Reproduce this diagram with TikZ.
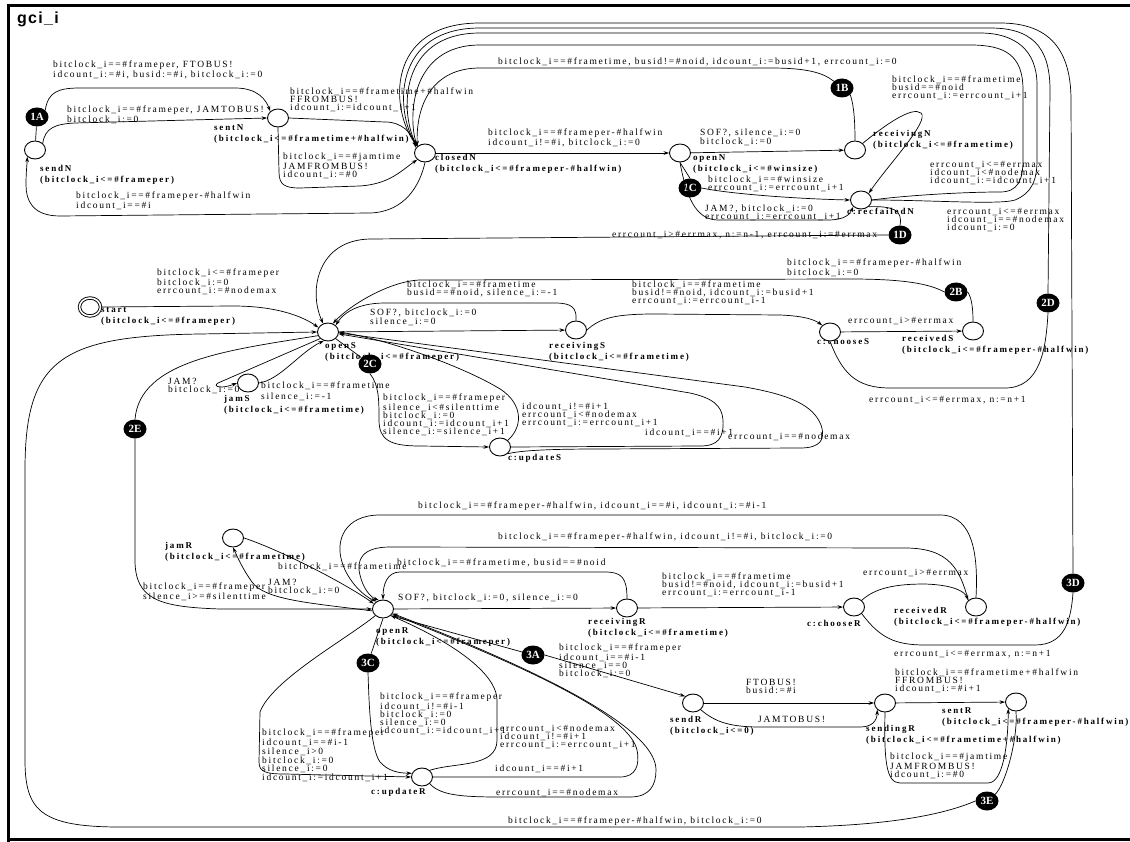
\documentclass[tikz,border=0pt]{standalone}
\usepackage{fontspec}
\setmainfont{Liberation Serif}
\newfontfamily\lbfont{Liberation Serif}[LetterSpace=18]
\newfontfamily\nmfont{Liberation Serif Bold}[LetterSpace=20]
\newfontfamily\mkfont{Liberation Serif Bold}
\newfontfamily\ttlfont{Liberation Sans Bold}[LetterSpace=8]
\usetikzlibrary{shapes.geometric,arrows.meta}
\newcommand\lf{\lbfont\fontsize{9.5}{8}\selectfont}
\newcommand\nf{\nmfont\fontsize{9}{11}\selectfont}
\begin{document}
\begin{tikzpicture}[x=1pt,y=-1pt,
  >={Stealth[length=5.5pt,width=3.6pt]},
  loc/.style={draw, ellipse, minimum width=21pt, minimum height=18pt, inner sep=0pt, line width=0.9pt, fill=white},
  mk/.style={ellipse, fill=black, minimum width=23pt, minimum height=19pt, inner sep=0pt, text=white, font=\mkfont\fontsize{11}{11}\selectfont},
  lb/.style={anchor=north west, inner sep=0pt, align=left, font=\lf},
  nm/.style={anchor=north west, inner sep=0pt, align=left, font=\nf},
  edg/.style={line width=0.7pt},
  arr/.style={edg,->}]
\useasboundingbox (0,0) rectangle (1130,842);
% frame and title
\draw[line width=3pt] (8,842) -- (8,5.5) -- (1131,5.5);
\draw[line width=3pt] (8,839.5) -- (1131,839.5);
\node[anchor=base west, font=\ttlfont\fontsize{16}{16}\selectfont, inner sep=0pt] (title) at (17,24) {gci\_i};

% ---------------- location names
\node[nm] (n1) at (40,165) {sendN\\(bitclock\_i<=\#frameper)};
\node[nm] (n2) at (214,124) {sentN\\(bitclock\_i<=\#frametime+\#halfwin)};
\node[nm] (n3) at (435,154) {closedN\\(bitclock\_i<=\#frameper-\#halfwin)};
\node[nm] (n4) at (693,154) {openN\\(bitclock\_i<=\#winsize)};
\node[nm] (n5) at (873,130) {receivingN\\(bitclock\_i<=\#frametime)};
\node[nm] (n6) at (847,208) {c:recfailedN};
\node[nm] (n7) at (101,307) {start\\(bitclock\_i<=\#frameper)};
\node[nm] (n8) at (325,342) {openS\\(bitclock\_i<=\#frameper)};
\node[nm] (n9) at (549,342) {receivingS\\(bitclock\_i<=\#frametime)};
\node[nm] (n10) at (817,338) {c:chooseS};
\node[nm] (n11) at (902,335) {receivedS\\(bitclock\_i<=\#frameper-\#halfwin)};
\node[nm] (n12) at (224,395) {jamS\\(bitclock\_i<=\#frametime)};
\node[nm] (n13) at (508,454) {c:updateS};
\node[nm] (n14) at (165,542) {jamR\\(bitclock\_i<=\#frametime)};
\node[nm] (n15) at (376,627) {openR\\(bitclock\_i<=\#frameper)};
\node[nm] (n16) at (588,618) {receivingR\\(bitclock\_i<=\#frametime)};
\node[nm] (n17) at (807,620) {c:chooseR};
\node[nm] (n18) at (894,607) {receivedR\\(bitclock\_i<=\#frameper-\#halfwin)};
\node[nm] (n19) at (670,716) {sendR\\(bitclock\_i<=0)};
\node[nm] (n20) at (866,725) {sendingR\\(bitclock\_i<=\#frametime+\#halfwin)};
\node[nm] (n21) at (942,707) {sentR\\(bitclock\_i<=\#frameper-\#halfwin)};
\node[nm] (n22) at (371,788) {c:updateR};

% ---------------- edge labels
\node[lb] (t1) at (53,61) {bitclock\_i==\#frameper, FTOBUS!\\idcount\_i:=\#i, busid:=\#i, bitclock\_i:=0};
\node[lb] (t2) at (67,106) {bitclock\_i==\#frameper, JAMTOBUS!\\bitclock\_i:=0};
\node[lb] (t3) at (290,88) {bitclock\_i==\#frametime+\#halfwin\\FFROMBUS!\\idcount\_i:=idcount\_i+1};
\node[lb] (t4) at (283,153) {bitclock\_i==\#jamtime\\JAMFROMBUS!\\idcount\_i:=\#0};
\node[lb] (t5) at (76,192) {bitclock\_i==\#frameper-\#halfwin\\idcount\_i==\#i};
\node[lb] (t6) at (488,129) {bitclock\_i==\#frameper-\#halfwin\\idcount\_i!=\#i, bitclock\_i:=0};
\node[lb] (t7) at (700,129) {SOF?, silence\_i:=0\\bitclock\_i:=0};
\node[lb] (t8) at (498,58) {bitclock\_i==\#frametime, busid!=\#noid, idcount\_i:=busid+1, errcount\_i:=0};
\node[lb] (t9) at (892,76) {bitclock\_i==\#frametime\\busid==\#noid\\errcount\_i:=errcount\_i+1};
\node[lb] (t10) at (708,176) {bitclock\_i==\#winsize\\errcount\_i:=errcount\_i+1};
\node[lb] (t11) at (705,205) {JAM?, bitclock\_i:=0\\errcount\_i:=errcount\_i+1};
\node[lb] (t12) at (930,161) {errcount\_i<=\#errmax\\idcount\_i<\#nodemax\\idcount\_i:=idcount\_i+1};
\node[lb] (t13) at (947,208) {errcount\_i<=\#errmax\\idcount\_i==\#nodemax\\idcount\_i:=0};
\node[lb] (t14) at (612,231) {errcount\_i>\#errmax, n:=n-1, errcount\_i:=\#errmax};
\node[lb] (t15) at (157,269) {bitclock\_i<=\#frameper\\bitclock\_i:=0\\errcount\_i:=\#nodemax};
\node[lb] (t16) at (370,309) {SOF?, bitclock\_i:=0\\silence\_i:=0};
\node[lb] (t17) at (407,281) {bitclock\_i==\#frametime\\busid==\#noid, silence\_i:=-1};
\node[lb] (t18) at (787,259) {bitclock\_i==\#frameper-\#halfwin\\bitclock\_i:=0};
\node[lb] (t19) at (632,281) {bitclock\_i==\#frametime\\busid!=\#noid, idcount\_i:=busid+1\\errcount\_i:=errcount\_i-1};
\node[lb] (t20) at (848,317) {errcount\_i>\#errmax};
\node[lb] (t21) at (869,396) {errcount\_i<=\#errmax, n:=n+1};
\node[lb] (t22) at (168,378) {JAM?\\bitclock\_i:=0};
\node[lb, font=\lbfont\fontsize{9.5}{11}\selectfont] (t23) at (261,382) {bitclock\_i==\#frametime\\silence\_i:=-1};
\node[lb] (t24) at (383,394) {bitclock\_i==\#frameper\\silence\_i<\#silenttime\\bitclock\_i:=0\\idcount\_i:=idcount\_i+1\\silence\_i:=silence\_i+1};
\node[lb] (t25) at (522,403) {idcount\_i!=\#i+1\\errcount\_i<\#nodemax\\errcount\_i:=errcount\_i+1};
\node[lb] (t26) at (645,429) {idcount\_i==\#i+1};
\node[lb] (t27) at (728,433) {errcount\_i==\#nodemax};
\node[lb] (t28) at (143,583) {bitclock\_i==\#frameper\\silence\_i>=\#silenttime};
\node[lb] (t29) at (268,579) {JAM?\\bitclock\_i:=0};
\node[lb] (t30) at (278,563) {bitclock\_i==\#frametime};
\node[lb] (t31) at (418,502) {bitclock\_i==\#frameper-\#halfwin, idcount\_i==\#i, idcount\_i:=\#i-1};
\node[lb] (t32) at (498,533) {bitclock\_i==\#frameper-\#halfwin, idcount\_i!=\#i, bitclock\_i:=0};
\node[lb] (t33) at (397,559) {bitclock\_i==\#frametime, busid==\#noid};
\node[lb] (t34) at (398,594) {SOF?, bitclock\_i:=0, silence\_i:=0};
\node[lb] (t35) at (662,573) {bitclock\_i==\#frametime\\busid!=\#noid, idcount\_i:=busid+1\\errcount\_i:=errcount\_i-1};
\node[lb] (t36) at (863,569) {errcount\_i>\#errmax};
\node[lb] (t37) at (894,650) {errcount\_i<=\#errmax, n:=n+1};
\node[lb] (t38) at (559,644) {bitclock\_i==\#frameper\\idcount\_i==\#i-1\\silence\_i==0\\bitclock\_i:=0};
\node[lb] (t39) at (380,693) {bitclock\_i==\#frameper\\idcount\_i!=\#i-1\\bitclock\_i:=0\\silence\_i:=0\\idcount\_i:=idcount\_i+1};
\node[lb, font=\lbfont\fontsize{9.5}{7.3}\selectfont] (t40) at (262,729) {bitclock\_i==\#frameper\\idcount\_i==\#i-1\\silence\_i>0\\bitclock\_i:=0\\silence\_i:=0\\idcount\_i:=idcount\_i+1};
\node[lb] (t41) at (500,725) {errcount\_i<\#nodemax\\idcount\_i!=\#i+1\\errcount\_i:=errcount\_i+1};
\node[lb] (t42) at (495,765) {idcount\_i==\#i+1};
\node[lb] (t43) at (496,789) {errcount\_i==\#nodemax};
\node[lb] (t44) at (746,679) {FTOBUS!\\busid:=\#i};
\node[lb] (t45) at (758,716) {JAMTOBUS!};
\node[lb] (t46) at (895,669) {bitclock\_i==\#frametime+\#halfwin\\FFROMBUS!\\idcount\_i:=\#i+1};
\node[lb] (t47) at (890,753) {bitclock\_i==\#jamtime\\JAMFROMBUS!\\idcount\_i:=\#0};
\node[lb] (t48) at (508,817) {bitclock\_i==\#frameper-\#halfwin, bitclock\_i:=0};

% ---------------- locations
\node[loc] (sendN) at (35,150) {};
\node[loc] (sentN) at (278,118) {};
\node[loc] (closedN) at (425,153) {};
\node[loc] (openN) at (680,153) {};
\node[loc] (receivingN) at (855,150) {};
\node[loc] (recfailedN) at (861,200) {};
\node[mk] (m1A) at (37,117) {1A};
\node[mk] (m1B) at (842,88) {1B};
\node[mk] (m1C) at (690,188) {1C};
\node[mk] (m1D) at (900,235) {1D};

\node[loc, double, double distance=1.6pt] (start) at (90,307) {};
\node[loc] (openS) at (328,332) {};
\node[loc] (receivingS) at (576,330) {};
\node[loc] (chooseS) at (830,332) {};
\node[loc] (receivedS) at (973,331) {};
\node[loc] (jamS) at (248,383) {};
\node[loc] (updateS) at (500,447) {};
\node[mk] (m2B) at (956,292) {2B};
\node[mk] (m2C) at (370,364) {2C};
\node[mk] (m2D) at (1048,303) {2D};
\node[mk] (m2E) at (135,429) {2E};

\node[loc] (jamR) at (233,538) {};
\node[loc] (openR) at (383,609) {};
\node[loc] (receivingR) at (627,608) {};
\node[loc] (chooseR) at (854,607) {};
\node[loc] (receivedR) at (976,607) {};
\node[loc] (sendR) at (693,703) {};
\node[loc] (sendingR) at (885,703) {};
\node[loc] (sentR) at (1016,702) {};
\node[loc] (updateR) at (422,777) {};
\node[mk] (m3A) at (533,655) {3A};
\node[mk] (m3C) at (368,663) {3C};
\node[mk] (m3D) at (1073,583) {3D};
\node[mk] (m3E) at (987,801) {3E};

% ---------------- edges N
\draw[edg] (sendN) -- (m1A);
\draw[arr] (m1A.north east) .. controls (48,92) and (58,88) .. (80,88) -- (235,88) .. controls (258,88) and (266,100) .. (sentN.north west);
\draw[arr] (sendN.north east) .. controls (45,128) and (55,124) .. (75,123) -- (sentN.west);
\draw[arr] (sentN.east) -- (385,122) .. controls (402,122) and (412,133) .. (closedN.150);
\draw[arr] (sentN.south) -- (279,172) .. controls (279,185) and (285,188) .. (300,188) -- (360,186) .. controls (390,184) and (402,170) .. (closedN.south west);
\draw[arr] (closedN.south) .. controls (420,185) and (405,212) .. (370,213) -- (60,216) .. controls (32,216) and (26,200) .. (26,185) .. controls (26,172) and (27,165) .. (sendN.south west);
\draw[arr] (closedN) -- (openN);
\draw[arr] (openN) -- (receivingN);
\draw[edg] (receivingN.north) .. controls (855,110) and (852,100) .. (m1B.south east);
\draw[arr] (m1B.north west) .. controls (822,72) and (805,68) .. (770,68) -- (480,68) .. controls (432,68) and (416,105) .. (closedN.north west);
\draw[arr] (receivingN.north east) .. controls (885,125) and (912,106) .. (921,113) .. controls (930,121) and (888,165) .. (recfailedN.north east);
\draw[edg] (openN.south) -- (m1C.north);
\draw[arr] (m1C.east) .. controls (730,194) and (800,199) .. (recfailedN.west);
\draw[arr] (openN.south) .. controls (686,195) and (695,220) .. (718,220) -- (828,220) .. controls (845,220) and (850,214) .. (recfailedN.south west);
\draw[arr] (recfailedN.east) .. controls (900,196) and (960,192) .. (1000,192) .. controls (1018,192) and (1023,180) .. (1023,160) -- (1023,90) .. controls (1023,55) and (1005,45) .. (970,45) -- (480,45) .. controls (410,45) and (408,118) .. (closedN.north west);
\draw[arr] (recfailedN.east) .. controls (930,200) and (1000,205) .. (1015,200) .. controls (1032,193) and (1037,180) .. (1037,160) -- (1037,85) .. controls (1037,50) and (1015,33) .. (980,33) -- (480,33) .. controls (398,33) and (400,114) .. (closedN.north west);
\draw[edg] (recfailedN.south east) .. controls (893,206) and (903,210) .. (m1D.north);
\draw[arr] (m1D.west) -- (370,239) .. controls (318,240) and (308,290) .. (openS.120);

% ---------------- edges S
\draw[arr] (start.east) -- (233,306) .. controls (280,306) and (305,318) .. (openS.155);
\draw[arr] (openS) -- (receivingS);
\draw[arr] (receivingS.north) .. controls (577,308) and (572,303) .. (555,303) -- (385,303) .. controls (355,303) and (342,315) .. (openS.north east);
\draw[edg] (receivedS.north) .. controls (973,310) and (972,298) .. (m2B.east);
\draw[arr] (m2B.west) .. controls (930,284) and (905,279) .. (850,279) -- (420,280) .. controls (390,281) and (350,305) .. (openS.60);
\draw[arr] (receivingS.east) .. controls (600,318) and (615,314) .. (655,314) -- (780,315) .. controls (805,316) and (815,320) .. (chooseS.north west);
\draw[arr] (chooseS) -- (receivedS);
\draw[edg] (chooseS.south) .. controls (842,372) and (855,388) .. (890,388) -- (1005,388) .. controls (1040,388) and (1046,350) .. (m2D.south);
\draw[arr] (m2D.north) -- (1050,90) .. controls (1050,45) and (1030,28) .. (990,28) -- (480,28) .. controls (392,28) and (395,112) .. (closedN.north west);
\draw[arr] (openS.220) -- (218,383) .. controls (212,387) and (222,389) .. (jamS.west);
\draw[arr] (jamS.east) .. controls (280,380) and (300,352) .. (openS.245);
\draw[edg] (openS.south east) -- (m2C);
\draw[arr] (m2C.south) .. controls (379,385) and (379,400) .. (379,420) .. controls (379,440) and (390,446) .. (420,446) -- (updateS.west);
\draw[arr] (updateS.north east) .. controls (525,425) and (522,400) .. (495,386) .. controls (460,366) and (390,340) .. (openS.east);
\draw[arr] (updateS.east) -- (700,446) .. controls (718,446) and (724,438) .. (723,420) .. controls (722,405) and (712,398) .. (690,393) -- (openS.-10);
\draw[arr] (updateS.south east) .. controls (520,451) and (540,449) .. (600,449) -- (800,448) .. controls (820,448) and (826,440) .. (821,425) .. controls (813,405) and (790,395) .. (745,387) -- (openS.-5);
\draw[edg] (openS.200) .. controls (230,350) and (140,360) .. (m2E.north);
\draw[arr] (m2E.south) -- (135,560) .. controls (135,600) and (160,607) .. (220,609) -- (openR.west);
\draw[edg] (sentR.south) .. controls (1018,740) and (1005,785) .. (m3E.north east);
\draw[arr] (m3E.west) .. controls (950,812) and (900,825) .. (800,827) -- (120,827) .. controls (40,827) and (25,810) .. (25,760) -- (25,470) .. controls (25,360) and (60,336) .. (200,334) -- (openS.west);

% ---------------- edges R
\draw[arr] (jamR.east) .. controls (275,548) and (340,580) .. (openR.150);
\draw[arr] (openR.190) .. controls (310,603) and (265,600) .. (252,582) .. controls (242,568) and (237,556) .. (jamR.south);
\draw[arr] (openR) -- (receivingR);
\draw[arr] (receivingR.north) .. controls (627,578) and (622,572) .. (605,572) -- (400,572) .. controls (387,572) and (383,585) .. (openR.north);
\draw[arr] (receivingR) -- (chooseR);
\draw[arr] (chooseR.north east) .. controls (875,588) and (895,584) .. (925,584) .. controls (955,585) and (965,592) .. (receivedR.north west);
\draw[edg] (chooseR.south east) .. controls (880,638) and (895,645) .. (925,645) -- (1035,645) .. controls (1065,645) and (1071,620) .. (m3D.south);
\draw[arr] (m3D.north) -- (1071,100) .. controls (1071,45) and (1045,23) .. (1000,23) -- (480,23) .. controls (385,23) and (390,110) .. (closedN.north west);
\draw[arr] (receivedR.north) .. controls (978,560) and (975,515) .. (940,515) -- (380,515) .. controls (345,515) and (335,540) .. (342,562) .. controls (348,582) and (365,597) .. (openR.130);
\draw[arr] (receivedR.north west) .. controls (960,570) and (950,548) .. (905,548) -- (390,547) .. controls (362,547) and (356,560) .. (360,575) .. controls (363,588) and (370,597) .. (openR.115);
\draw[edg] (openR.south east) -- (m3A);
\draw[arr] (m3A.east) -- (sendR.north west);
\draw[edg] (openR.south) -- (m3C);
\draw[arr] (m3C.south) .. controls (369,700) and (370,748) .. (380,762) .. controls (388,771) and (398,773) .. (updateR.160);
\draw[arr] (openR.south west) .. controls (345,640) and (272,680) .. (260,712) -- (259,762) .. controls (259,772) and (266,774) .. (285,774) -- (updateR.west);
\draw[arr] (updateR.north east) .. controls (455,762) and (497,768) .. (497,740) -- (497,700) .. controls (497,680) and (470,650) .. (openR.-40);
\draw[arr] (updateR.east) -- (620,777) .. controls (636,777) and (640,765) .. (637,750) .. controls (630,720) and (560,680) .. (openR.-30);
\draw[arr] (updateR.south east) .. controls (440,795) and (460,797) .. (500,797) -- (630,797) .. controls (650,797) and (656,785) .. (656,770) .. controls (656,738) and (590,690) .. (openR.-25);
\draw[arr] (sendR) -- (sendingR);
\draw[arr] (sendR.south east) .. controls (715,722) and (730,727) .. (760,727) -- (860,727) .. controls (872,727) and (877,721) .. (sendingR.south west);
\draw[arr] (sendingR) -- (sentR);
\draw[arr] (sendingR.south) .. controls (884,760) and (886,783) .. (900,783) -- (988,783) .. controls (1003,783) and (1008,745) .. (sentR.south west);
\end{tikzpicture}
\end{document}
